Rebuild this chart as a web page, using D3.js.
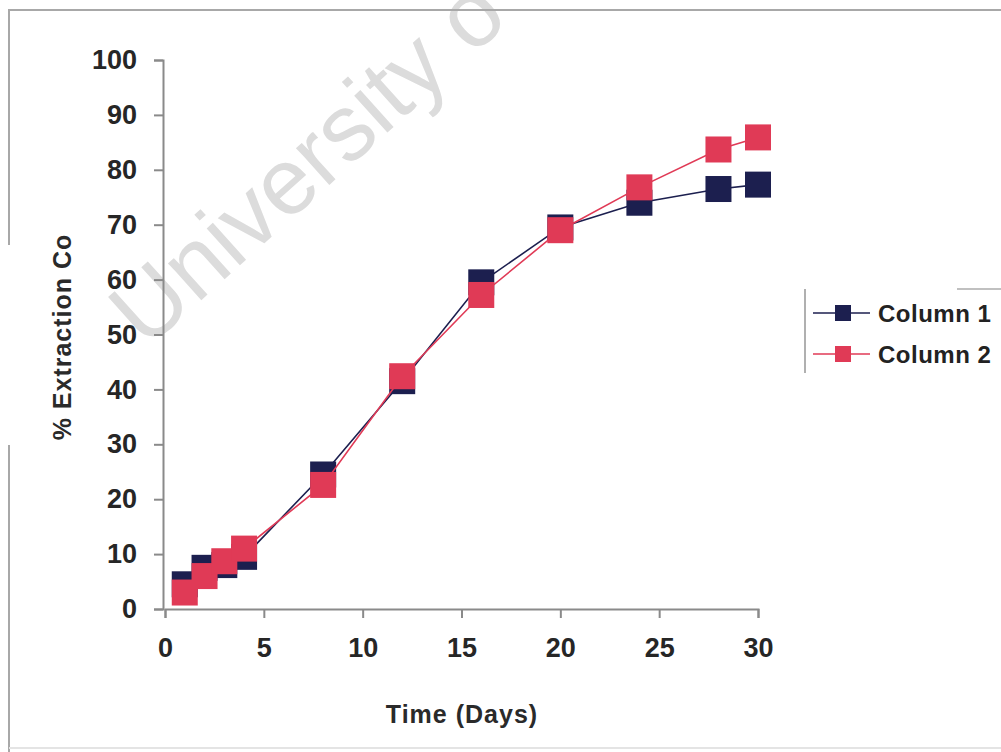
<!DOCTYPE html>
<meta charset="utf-8">
<head>
    <title>% Extraction Co vs Time</title>
</head>

<style>
	body {
	  margin: 0;
	  background: #fff;
	  font-family: "Liberation Sans", Arial, sans-serif;
	}

	.axis path,
	.axis line {
		 fill: none;
		 stroke: #8a8a8a;
		 stroke-width: 2px;
	}

	.axis text {
	   font: bold 27px "Liberation Sans", Arial, sans-serif;
	   fill: #262626;
	}

	.axisLabel {
	   font: bold 25px "Liberation Sans", Arial, sans-serif;
	   fill: #2a2a2a;
	   letter-spacing: 1px;
	}

	.legendLabel {
	   font: bold 24px "Liberation Sans", Arial, sans-serif;
	   fill: #222;
	   letter-spacing: 0.5px;
	}

	.frame {
	   stroke: #a8a8a8;
	   stroke-width: 2px;
	}

	.watermark {
	   font: 94px "Liberation Sans", Arial, sans-serif;
	   fill: #dcdcdc;
	}
</style>
<body>
<script src="https://cdn.jsdelivr.net/npm/d3@7"></script>

<script>
// data
var days = [1, 2, 3, 4, 8, 12, 16, 20, 24, 28, 30];
var column1 = [4.5, 7.5, 8, 9.5, 24.5, 41.5, 59.5, 69.5, 74, 76.5, 77.3];
var column2 = [3, 6, 8.7, 11, 22.6, 42.4, 57.2, 69, 76.8, 83.7, 85.9];
var seriesNames = ["Column 1", "Column 2"];
var seriesColors = ["#1c1f4f", "#e03a56"];
var xTicks = [0, 5, 10, 15, 20, 25, 30];
var yTicks = [0, 10, 20, 30, 40, 50, 60, 70, 80, 90, 100];

var width = 1001, height = 752;
var plot = {left: 165, right: 758, top: 60, bottom: 609};

var svg = d3.select("body").append("svg")
    .attr("width", width)
    .attr("height", height);

svg.append("rect")
    .attr("width", width)
    .attr("height", height)
    .attr("fill", "#fff");

// watermark from the scan (only the first word shows, the rest runs off the top)
svg.append("text")
    .attr("class", "watermark")
    .attr("transform", "translate(146,350) rotate(-42)")
    .text("University o");

// outer frame (left edge is broken where the scan faded)
svg.append("line").attr("class", "frame")
    .attr("x1", 8).attr("x2", width).attr("y1", 10).attr("y2", 10);
svg.append("line").attr("class", "frame")
    .attr("x1", 9).attr("x2", 9).attr("y1", 10).attr("y2", 245);
svg.append("line").attr("class", "frame")
    .attr("x1", 9).attr("x2", 9).attr("y1", 445).attr("y2", height);
svg.append("line").attr("class", "frame")
    .attr("x1", 9).attr("x2", width).attr("y1", 748).attr("y2", 748)
    .style("stroke", "#e4e4e4");

// scales
var xScale = d3.scaleLinear().domain([0, 30]).range([plot.left, plot.right]);
var yScale = d3.scaleLinear().domain([0, 100]).range([plot.bottom, plot.top]);

var xAxis = d3.axisBottom(xScale).tickValues(xTicks).tickSize(9).tickPadding(20).tickSizeOuter(9);
var yAxis = d3.axisLeft(yScale).tickValues(yTicks).tickSize(9).tickPadding(17).tickSizeOuter(9);

// x-axis
svg.append("g")
    .attr("class", "axis")
    .attr("transform", "translate(0," + plot.bottom + ")")
    .call(xAxis);

// y-axis
svg.append("g")
    .attr("class", "axis")
    .attr("transform", "translate(" + (plot.left - 2) + ",0)")
    .call(yAxis);

// axis labels
svg.append("text")
    .attr("class", "axisLabel")
    .attr("x", 462)
    .attr("y", 723)
    .attr("text-anchor", "middle")
    .text("Time (Days)");

svg.append("text")
    .attr("class", "axisLabel")
    .attr("transform", "translate(71,337) rotate(-90)")
    .attr("text-anchor", "middle")
    .text("% Extraction Co");

// series
var series = [column1, column2];
var line = d3.line()
    .x(function(d, i) { return xScale(days[i]); })
    .y(function(d) { return yScale(d); });

var markerSize = 26;

series.forEach(function(values, s) {
  svg.append("path")
      .datum(values)
      .attr("fill", "none")
      .attr("stroke", seriesColors[s])
      .attr("stroke-width", 1.6)
      .attr("d", line);

  svg.selectAll(".dot" + s)
      .data(values)
      .enter()
      .append("rect")
      .attr("class", "dot" + s)
      .attr("x", function(d, i) { return xScale(days[i]) - markerSize / 2; })
      .attr("y", function(d) { return yScale(d) - markerSize / 2; })
      .attr("width", markerSize)
      .attr("height", markerSize)
      .attr("fill", seriesColors[s]);
});

// legend
var legend = svg.append("g").attr("class", "legend");

legend.append("line").attr("class", "frame")
    .attr("x1", 805).attr("x2", 805).attr("y1", 289).attr("y2", 373)
    .style("stroke", "#b0b0b0");
legend.append("line").attr("class", "frame")
    .attr("x1", 957).attr("x2", width).attr("y1", 289).attr("y2", 289)
    .style("stroke", "#c0c0c0");

var legendRows = [313, 354];
seriesNames.forEach(function(name, s) {
  var y = legendRows[s];
  legend.append("line")
      .attr("x1", 813).attr("x2", 870)
      .attr("y1", y).attr("y2", y)
      .attr("stroke", seriesColors[s])
      .attr("stroke-width", 1.6);
  legend.append("rect")
      .attr("x", 843 - 8).attr("y", y - 8)
      .attr("width", 16).attr("height", 16)
      .attr("fill", seriesColors[s]);
  legend.append("text")
      .attr("class", "legendLabel")
      .attr("x", 878)
      .attr("y", y + 9)
      .text(name);
});
</script>
</body>
